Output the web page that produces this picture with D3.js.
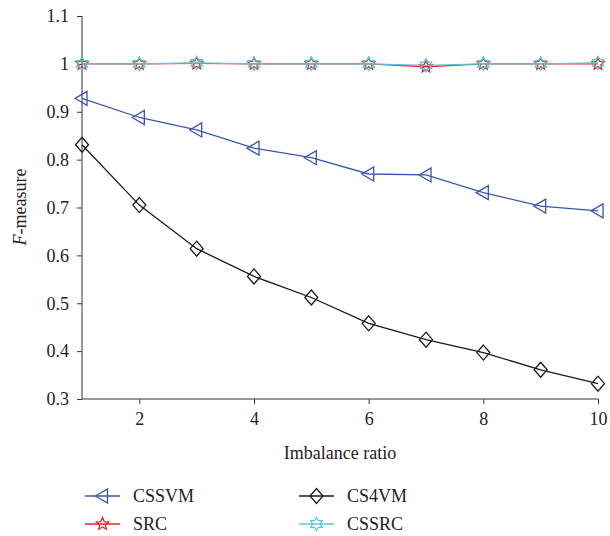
<!DOCTYPE html>
<html lang="en">
<head>
<meta charset="UTF-8">
<title>F-measure vs imbalance ratio</title>
<script src="https://d3js.org/d3.v7.min.js"></script>
<style>
  body { margin: 0; background: #fff; }
  svg text { font-family: "Liberation Serif", "DejaVu Serif", serif !important; }
  .axis path, .axis line { stroke: #333; }
</style>
</head>
<body>
<svg id="chart" width="610" height="536"></svg>
<script>
// data
const ratios = [1, 2, 3, 4, 5, 6, 7, 8, 9, 10];
const cssvm = [0.928, 0.888, 0.862, 0.824, 0.804, 0.770, 0.768, 0.731, 0.703, 0.693];
const cs4vm = [0.831, 0.705, 0.614, 0.556, 0.512, 0.458, 0.424, 0.397, 0.361, 0.332];
const src   = [1.0, 1.0, 1.001, 1.0, 1.0, 1.0, 0.994, 1.0, 1.0, 1.0];
const cssrc = [1.0, 1.0, 1.002, 1.0, 1.0, 1.0, 0.997, 1.0, 1.0, 1.002];
const xTicks = [2, 4, 6, 8, 10];
const yTicks = [0.3, 0.4, 0.5, 0.6, 0.7, 0.8, 0.9, 1, 1.1];

const series = [
  { name: "SRC",   values: src,   color: "#e8262a", shape: "star5" },
  { name: "CSSRC", values: cssrc, color: "#5cc6d6", shape: "star6" },
  { name: "CSSVM", values: cssvm, color: "#3a55b0", shape: "tri" },
  { name: "CS4VM", values: cs4vm, color: "#1a1a1a", shape: "diamond" }
];

const svg = d3.select("#chart");
const x = d3.scaleLinear().domain([1, 10]).range([82, 598]);
const y = d3.scaleLinear().domain([0.3, 1.1]).range([399, 16]);

// axes
svg.append("g")
  .attr("class", "axis")
  .attr("transform", `translate(0,${y(0.3)})`)
  .call(d3.axisBottom(x).tickValues(xTicks).tickSize(5).tickPadding(8).tickFormat(d3.format("d")))
  .call(g => g.select(".domain").attr("d", `M${x(1)},0H${x(10)}`));

svg.append("g")
  .attr("class", "axis")
  .attr("transform", `translate(${x(1)},0)`)
  .call(d3.axisLeft(y).tickValues(yTicks).tickSize(5).tickPadding(8).tickFormat(d => d === 1 ? "1" : d3.format(".1f")(d)))
  .call(g => g.select(".domain").attr("d", `M0,${y(1.1)}V${y(0.3)}`));

svg.selectAll(".axis").attr("font-size", 18);
svg.selectAll(".tick text").attr("fill", "#222");

// axis titles
svg.append("text")
  .attr("x", 340).attr("y", 459)
  .attr("text-anchor", "middle")
  .style("font-size", "18px").attr("fill", "#222")
  .text("Imbalance ratio");

const yl = svg.append("text")
  .attr("transform", "translate(26,207) rotate(-90)")
  .attr("text-anchor", "middle")
  .style("font-size", "18px").attr("fill", "#222");
yl.append("tspan").style("font-style", "italic").text("F");
yl.append("tspan").text("-measure");

// marker shapes
function markerPath(shape) {
  if (shape === "tri") return "M-7,0L5,-7L5,7Z";
  if (shape === "diamond") return "M0,-7.5L6.5,0L0,7.5L-6.5,0Z";
  if (shape === "star5") {
    const pts = [];
    for (let i = 0; i < 10; i++) {
      const r = i % 2 === 0 ? 6.5 : 3;
      const a = -Math.PI / 2 + i * Math.PI / 5;
      pts.push([r * Math.cos(a), r * Math.sin(a)]);
    }
    return "M" + pts.map(p => p.join(",")).join("L") + "Z";
  }
  const pts = [];
  for (let i = 0; i < 12; i++) {
    const r = i % 2 === 0 ? 6.5 : 3.8;
    const a = -Math.PI / 2 + i * Math.PI / 6;
    pts.push([r * Math.cos(a), r * Math.sin(a)]);
  }
  return "M" + pts.map(p => p.join(",")).join("L") + "Z";
}

const line = d3.line().x((d, i) => x(ratios[i])).y(d => y(d));

series.forEach(s => {
  svg.append("path")
    .datum(s.values)
    .attr("fill", "none")
    .attr("stroke", s.color)
    .attr("stroke-width", 1.3)
    .attr("d", line);
  svg.append("g").selectAll("path")
    .data(s.values)
    .join("path")
    .attr("transform", (d, i) => `translate(${x(ratios[i])},${y(d)})`)
    .attr("d", markerPath(s.shape))
    .attr("fill", "none")
    .attr("stroke", s.color)
    .attr("stroke-width", 1.3);
});

// legend
const legendItems = [
  { s: series[2], x: 85, y: 496 },
  { s: series[3], x: 299, y: 496 },
  { s: series[0], x: 85, y: 524 },
  { s: series[1], x: 299, y: 524 }
];
const lg = svg.append("g").selectAll("g").data(legendItems).join("g")
  .attr("transform", d => `translate(${d.x},${d.y})`);
lg.append("line")
  .attr("x1", 0).attr("x2", 35)
  .attr("stroke", d => d.s.color).attr("stroke-width", 1.3);
lg.append("path")
  .attr("transform", "translate(17.5,0)")
  .attr("d", d => markerPath(d.s.shape))
  .attr("fill", "none").attr("stroke", d => d.s.color).attr("stroke-width", 1.3);
lg.append("text")
  .attr("x", 48).attr("dy", "0.35em")
  .style("font-size", "18px").attr("fill", "#222")
  .text(d => d.s.name);
</script>
</body>
</html>
